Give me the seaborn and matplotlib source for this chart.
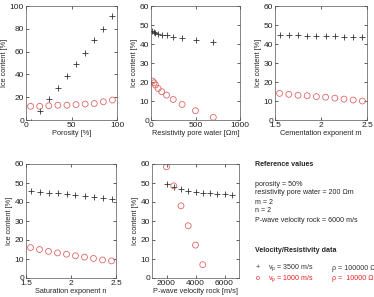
import matplotlib
matplotlib.use('Agg')
import matplotlib.pyplot as plt
import numpy as np
import seaborn as sns

sns.set_style('ticks')
plt.rcParams['font.family'] = ['Liberation Sans', 'DejaVu Sans']
plt.rcParams['mathtext.default'] = 'regular'
plt.rcParams['font.size'] = 5.5

# porosity
por = [5, 15, 25, 35, 45, 55, 65, 75, 85, 95]
por_hi = [-2, 8, 18, 28, 39, 49, 59, 70, 80, 91]
por_lo = [12, 12, 12.5, 13, 13, 13.5, 14, 14.5, 16, 17.5]

# resistivity pore water
res = [15, 35, 50, 80, 120, 175, 250, 350, 500, 700]
res_hi = [47, 46.5, 46, 45.5, 45, 44.5, 43.7, 43, 42, 41]
res_lo = [20.5, 19.6, 18.4, 16.6, 14.9, 13.1, 10.8, 8.2, 4.9, 1.4]

# cementation exponent m
m_vals = [1.55, 1.65, 1.75, 1.85, 1.95, 2.05, 2.15, 2.25, 2.35, 2.45]
m_hi = [44.5, 44.5, 44.5, 44.3, 44.2, 44, 44, 43.8, 43.6, 43.5]
m_lo = [14, 13.5, 13, 12.8, 12.3, 12, 11.5, 11, 10.5, 10]

# saturation exponent n
n_vals = [1.55, 1.65, 1.75, 1.85, 1.95, 2.05, 2.15, 2.25, 2.35, 2.45]
n_hi = [46, 45.5, 45, 44.5, 44, 43.5, 43, 42.7, 42.2, 41.5]
n_lo = [16, 15, 14, 13.2, 12.5, 11.7, 11, 10.3, 9.5, 9]

# p-wave velocity rock
vp = [2000, 2500, 3000, 3500, 4000, 4500, 5000, 5500, 6000, 6500]
vp_hi = [49.5, 48, 47, 46, 45.3, 44.8, 44.5, 44.2, 44, 43.7]
vp_lo_x = [2000, 2500, 3000, 3500, 4000, 4500]
vp_lo = [58.5, 48.5, 38, 27.5, 17.3, 7]

blk = '#333333'
red = '#e06666'

W, H = 374, 297
fig = plt.figure(figsize=(W / 100, H / 100), dpi=100)

def box(l, r, t, b):
    return [l / W, (H - b) / H, (r - l) / W, (b - t) / H]

panels = [
    (box(26, 117, 6, 120), por, por_hi, por, por_lo, 'Porosity [%]', (0, 100), [0, 50, 100], (0, 100), np.arange(0, 101, 20)),
    (box(151, 240, 6, 120), res, res_hi, res, res_lo, 'Resistivity pore water [\u03a9m]', (0, 1000), [0, 500, 1000], (0, 60), np.arange(0, 61, 10)),
    (box(275, 367, 6, 120), m_vals, m_hi, m_vals, m_lo, 'Cementation exponent m', (1.5, 2.5), [1.5, 2, 2.5], (0, 60), np.arange(0, 61, 10)),
    (box(26, 116, 164, 278), n_vals, n_hi, n_vals, n_lo, 'Saturation exponent n', (1.5, 2.5), [1.5, 2, 2.5], (0, 60), np.arange(0, 61, 10)),
    (box(152, 239, 164, 278), vp, vp_hi, vp_lo_x, vp_lo, 'P-wave velocity rock [m/s]', (1000, 7000), [2000, 4000, 6000], (0, 60), np.arange(0, 61, 10)),
]

for pos, x1, y1, x2, y2, xl, xlim, xt, ylim, yt in panels:
    ax = fig.add_axes(pos)
    sns.scatterplot(x=x1, y=y1, ax=ax, marker='+', s=22, color=blk, linewidth=0.6)
    sns.scatterplot(x=x2, y=y2, ax=ax, marker='o', s=18, facecolor='none', edgecolor=red, linewidth=0.6)
    ax.set_xlim(xlim)
    ax.set_ylim(ylim)
    ax.set_xticks(xt)
    ax.set_xticklabels([('%g' % v) for v in xt])
    ax.set_yticks(yt)
    ax.set_xlabel(xl, labelpad=0.5, fontsize=5.3)
    ax.set_ylabel('Ice content [%]', labelpad=1, fontsize=5.3)
    ax.tick_params(direction='in', top=True, right=True, length=2.5, width=0.5, pad=1.5, labelsize=6, colors='#222222')
    for s in ax.spines.values():
        s.set_linewidth(0.5)
        s.set_color('#555555')

def t(x, y, s, **kw):
    fig.text(x / W, (H - y) / H, s, va='center', ha='left', fontsize=5.1, **kw)

t(255, 165, 'Reference values', fontweight='bold')
t(255, 184, 'porosity = 50%')
t(255, 193, 'resistivity pore water = 200 \u03a9m')
t(255, 202, 'm = 2')
t(255, 210, 'n = 2')
t(255, 221, 'P-wave velocity rock = 6000 m/s')
t(255, 250, 'Velocity/Resistivity data', fontweight='bold')
t(256, 268, '+', color=blk)
t(268, 268, '$v_p$ = 3500 m/s', color=blk)
t(332, 268, '\u03c1 = 100000 \u03a9m', color=blk)
t(256, 279, 'o', color='#e02020')
t(268, 279, '$v_p$ = 1000 m/s', color='#e02020')
t(332, 279, '\u03c1 =  10000 \u03a9m', color='#e02020')

fig.savefig('out.png', dpi=100)
